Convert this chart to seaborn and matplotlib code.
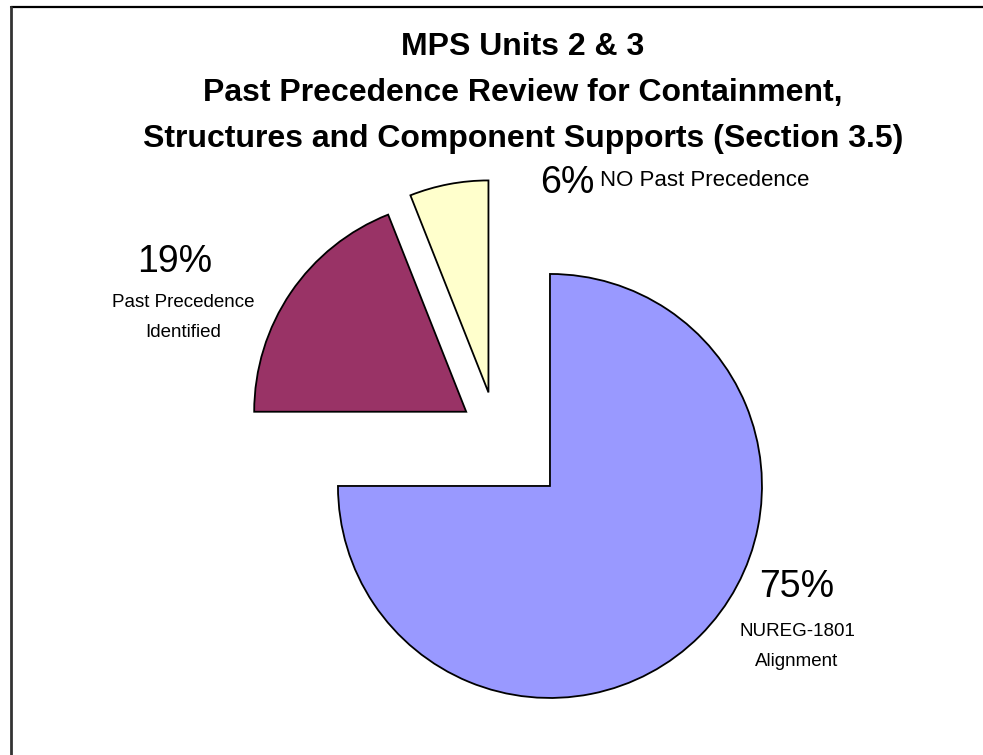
import matplotlib
matplotlib.use("Agg")
import matplotlib.pyplot as plt
from matplotlib.lines import Line2D
import seaborn as sns

# Chart data
categories = ["NUREG-1801\nAlignment", "Past Precedence\nIdentified", "NO Past Precedence"]
shares = [75, 19, 6]
slice_colors = ["#9999FF", "#993366", "#FFFFCC"]
explode = [0.36, 0.17, 0.19]
title_lines = [
    "MPS Units 2 & 3",
    "Past Precedence Review for Containment,",
    "Structures and Component Supports (Section 3.5)",
]

sns.set_theme(style="white")
plt.rcParams["font.family"] = ["Liberation Sans", "DejaVu Sans"]

W, H = 983, 755
fig = plt.figure(figsize=(W / 100, H / 100), dpi=100)
fig.patch.set_facecolor("white")

# axes spans the whole figure; one data unit equals the pie radius (212 px)
R = 212.0
cx, cy = 496.0, 432.0
ax = fig.add_axes([0, 0, 1, 1])

palette = sns.color_palette(slice_colors)
ax.pie(
    shares,
    colors=palette,
    explode=explode,
    startangle=90,
    counterclock=False,
    radius=1.0,
    wedgeprops=dict(edgecolor="black", linewidth=1.3),
)
ax.set_aspect("auto")
ax.set_xlim(-cx / R, (W - cx) / R)
ax.set_ylim(-(H - cy) / R, cy / R)
ax.axis("off")


def fx(px):
    return px / W


def fy(py):
    return 1 - py / H


# title
for txt, base in zip(title_lines, [55, 101, 147]):
    fig.text(fx(523), fy(base), txt, ha="center", va="baseline",
             fontsize=23, fontweight="bold", color="black")

# slice labels: percentage + category name
pct_kw = dict(fontsize=27, color="black", va="baseline")
name_kw = dict(fontsize=13.5, color="black", va="baseline")

# 75 %
fig.text(fx(797), fy(597), f"{shares[0]}%", ha="center", **pct_kw)
fig.text(fx(797), fy(636), categories[0].split("\n")[0], ha="center", **name_kw)
fig.text(fx(797), fy(666), categories[0].split("\n")[1], ha="center", **name_kw)

# 19 %
fig.text(fx(175), fy(272), f"{shares[1]}%", ha="center", **pct_kw)
fig.text(fx(183), fy(307), categories[1].split("\n")[0], ha="center", **name_kw)
fig.text(fx(183), fy(337), categories[1].split("\n")[1], ha="center", **name_kw)

# 6 %
fig.text(fx(540), fy(193), f"{shares[2]}%", ha="left", **pct_kw)
fig.text(fx(600), fy(186), categories[2], ha="left", fontsize=16,
         color="black", va="baseline")

# frame around the slide
fig.add_artist(Line2D([fx(11), 1.0], [fy(7), fy(7)], color="black", lw=1.6,
                      transform=fig.transFigure))
fig.add_artist(Line2D([fx(11), fx(11)], [fy(7), 0.0], color="#333333", lw=2.0,
                      transform=fig.transFigure))

fig.savefig("out.png", dpi=100, facecolor="white")
